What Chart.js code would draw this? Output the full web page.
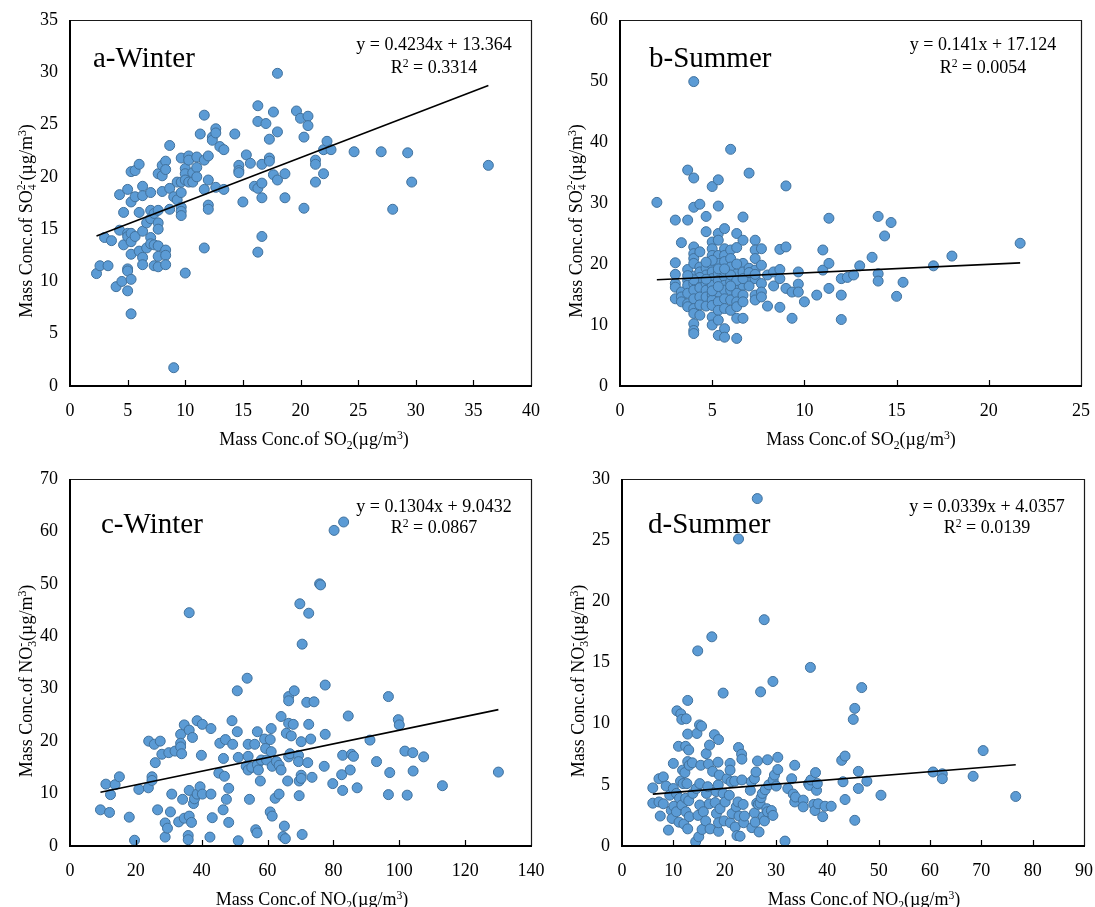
<!DOCTYPE html>
<html>
<head>
<meta charset="utf-8">
<script src="https://cdn.jsdelivr.net/npm/chart.js@4/dist/chart.umd.min.js"></script>
<style>
  html, body { margin:0; padding:0; background:#fff; }
  body { width:1095px; height:907px; position:relative; overflow:hidden; }
  .panel { position:absolute; }
  canvas { display:block; }
</style>
</head>
<body>
<div class="panel" style="left:0;top:0;"><canvas id="ca" width="550" height="450"></canvas></div>
<div class="panel" style="left:550px;top:0;"><canvas id="cb" width="545" height="450"></canvas></div>
<div class="panel" style="left:0;top:450px;"><canvas id="cc" width="550" height="457"></canvas></div>
<div class="panel" style="left:550px;top:450px;"><canvas id="cd" width="545" height="457"></canvas></div>
<script>
// ---------------- DATA ----------------
// a-Winter: SO2 (x) vs SO4 2- (y)
const soWinterX = [2.3,2.6,3.0,3.3,3.6,4.0,4.3,4.3,4.5,4.65,4.65,5.0,5.0,5.0,5.0,5.0,5.0,5.3,5.3,5.3,5.3,5.3,5.3,5.3,5.65,5.65,5.65,6.0,6.0,6.0,6.3,6.3,6.3,6.3,6.3,6.65,6.65,7.0,7.0,7.0,7.0,7.0,7.3,7.3,7.3,7.65,7.65,7.65,7.65,7.65,7.65,7.65,8.0,8.0,8.0,8.3,8.3,8.3,8.3,8.3,8.65,8.65,8.65,9.0,9.0,9.3,9.3,9.65,9.65,9.65,9.65,9.65,9.65,10.0,10.0,10.0,10.0,10.3,10.3,10.3,10.65,10.65,11.0,11.0,11.0,11.3,11.65,11.65,11.65,11.65,12.0,12.0,12.0,12.0,12.35,12.35,12.65,12.65,12.65,13.0,13.35,13.35,14.3,14.65,14.65,14.65,15.0,15.3,15.65,16.0,16.3,16.3,16.3,16.3,16.65,16.65,16.65,16.65,17.0,17.3,17.3,17.3,17.65,17.65,18.0,18.0,18.0,18.65,18.65,19.65,20.0,20.3,20.3,20.65,20.65,21.3,21.3,21.3,22.0,22.0,22.3,22.65,24.65,27.0,28.0,29.3,29.65,36.3];
const soWinterY = [10.75,11.5,14.2,11.5,13.9,9.5,18.3,14.9,10.0,16.6,13.5,18.8,14.6,14.3,11.2,11.0,9.1,20.5,17.6,14.6,13.8,12.6,10.2,6.9,20.6,18.1,14.3,21.2,16.6,12.9,19.1,18.2,14.8,12.3,11.6,15.6,13.2,18.5,16.8,16.0,14.2,13.6,16.5,13.5,11.5,20.3,16.8,15.6,15.0,13.4,12.4,11.4,21.1,20.1,18.6,21.5,20.7,13.0,12.5,11.6,23.0,18.9,16.9,18.1,1.75,19.5,17.8,21.8,19.5,18.5,17.1,16.7,16.3,20.8,20.3,19.7,10.8,22.0,21.6,19.5,20.4,19.5,21.9,20.9,20.0,24.1,25.9,21.6,18.8,13.2,22.0,19.7,17.3,16.9,23.8,23.5,24.6,24.2,19.0,22.9,22.6,18.8,24.1,21.1,20.6,20.4,17.6,22.1,21.3,19.1,26.8,25.3,18.9,12.8,21.2,19.4,18.0,14.3,25.1,23.6,21.8,21.5,26.2,20.2,29.9,24.3,19.7,20.3,18.0,26.3,25.6,23.8,17.0,25.8,24.9,21.6,21.2,19.5,22.6,20.3,23.4,22.6,22.4,22.4,16.9,22.3,19.5,21.1];

// b-Summer: SO2 (x) vs SO4 2- (y)
const soSummerX = [2.0,3.0,3.0,3.0,3.0,3.0,3.0,3.33,3.33,3.33,3.33,3.67,3.67,3.67,3.67,3.67,3.67,3.67,3.67,4.0,4.0,4.0,4.0,4.0,4.0,4.0,4.0,4.0,4.0,4.0,4.0,4.0,4.0,4.0,4.0,4.33,4.33,4.33,4.33,4.33,4.33,4.33,4.33,4.33,4.67,4.67,4.67,4.67,4.67,4.67,4.67,4.67,5.0,5.0,5.0,5.0,5.0,5.0,5.0,5.0,5.0,5.0,5.0,5.0,5.0,5.33,5.33,5.33,5.33,5.33,5.33,5.33,5.33,5.33,5.33,5.33,5.33,5.33,5.67,5.67,5.67,5.67,5.67,5.67,5.67,5.67,5.67,5.67,5.67,6.0,6.0,6.0,6.0,6.0,6.0,6.0,6.0,6.33,6.33,6.33,6.33,6.33,6.33,6.33,6.33,6.33,6.67,6.67,6.67,6.67,6.67,6.67,6.67,6.67,7.0,7.0,7.0,7.0,7.33,7.33,7.33,7.33,7.33,7.33,7.33,7.67,7.67,7.67,7.67,7.67,8.0,8.0,8.33,8.33,8.67,8.67,8.67,8.67,9.0,9.0,9.0,9.33,9.33,9.67,9.67,9.67,10.0,10.67,11.0,11.0,11.33,11.33,11.33,12.0,12.0,12.0,12.33,12.67,13.0,13.67,14.0,14.0,14.0,14.35,14.7,15.0,15.35,17.0,18.0,21.7,4.33,4.67,5.0,5.33,5.67,6.0,6.33,6.67,7.0,4.0,3.67,5.33,6.0,5.0,4.67,6.33,7.33,5.67];
const soSummerY = [30.1,27.2,20.2,18.3,16.8,16.2,14.3,23.5,15.4,14.6,13.8,35.4,27.2,19.1,17.3,16.5,15.2,13.5,13.0,49.9,34.1,29.3,22.8,21.7,20.9,20.1,18.0,16.8,15.7,14.3,12.7,11.9,10.2,9.1,8.6,29.8,22.0,19.5,18.7,17.1,16.1,14.6,13.3,11.6,27.8,25.3,19.3,18.2,16.8,15.7,14.6,13.1,32.7,23.6,22.5,21.4,19.8,18.7,17.6,16.5,14.9,14.1,13.2,11.3,10.0,33.8,29.5,25.0,23.9,21.4,20.1,18.4,17.3,15.4,13.8,12.4,10.8,8.3,25.8,22.5,21.4,20.4,17.9,16.5,15.7,14.3,12.7,9.4,8.0,38.8,22.3,20.9,19.5,17.1,15.7,14.1,12.4,25.0,22.7,18.4,16.8,15.2,13.8,13.0,11.1,7.8,27.7,23.9,20.1,18.7,16.5,14.9,13.8,11.1,34.9,19.3,17.9,16.4,23.9,22.3,20.9,19.0,17.6,14.9,14.1,22.5,19.8,16.8,15.4,14.6,18.2,13.1,18.7,16.4,22.4,19.1,17.6,12.9,32.8,22.8,16.0,15.4,11.1,18.7,16.7,15.4,13.8,14.9,22.3,19.0,27.5,20.1,16.0,17.6,14.9,10.9,17.8,18.2,19.7,21.1,27.8,18.4,17.2,24.6,26.8,14.7,17.0,19.7,21.3,23.4,17.8,17.5,15.6,16.3,18.8,18.2,17.3,17.6,18.6,17.4,18.1,19.2,16.4,20.6,20.3,20.0,18.3,19.2];

// c-Winter: NO2 (x) vs NO3 - (y)
const noWinterX = [9.25,10.9,12.0,12.3,13.7,15.0,18.0,19.6,20.9,23.8,23.9,24.9,24.9,25.6,25.9,26.6,27.4,27.9,28.9,28.9,29.6,30.0,30.5,30.9,31.9,33.0,33.6,33.6,33.6,33.9,34.2,34.7,34.7,35.9,35.9,36.2,36.2,36.2,36.2,36.9,37.2,37.5,37.8,38.6,38.6,39.5,39.9,40.2,40.2,42.5,42.8,42.8,43.2,45.2,45.5,46.5,46.6,46.9,47.2,47.5,48.2,48.2,49.2,49.4,50.8,50.8,51.1,51.1,53.5,53.8,54.1,54.1,54.1,54.5,55.2,56.1,56.4,56.8,56.9,56.9,57.2,57.8,58.1,59.1,59.4,59.7,60.8,60.8,61.1,61.1,61.4,61.4,62.3,62.7,63.5,63.5,64.1,64.1,64.7,65.1,65.4,65.7,66.1,66.4,66.4,66.4,66.4,66.8,67.2,67.8,68.1,69.4,69.4,69.6,69.6,69.8,70.2,70.2,70.2,70.5,70.5,71.9,72.2,72.5,72.5,73.1,73.5,74.1,75.8,76.1,77.2,77.5,77.5,79.8,80.2,82.5,82.8,82.8,83.1,84.5,85.1,85.5,86.1,87.2,91.1,93.1,96.7,96.7,97.1,99.7,100.0,101.7,102.4,104.1,104.2,107.4,113.1,130.1];
const noWinterY = [6.9,11.8,6.4,9.8,11.7,13.2,5.5,1.1,10.8,11.1,20.0,13.2,12.5,19.4,15.9,6.9,20.0,17.5,4.4,1.7,3.4,17.8,6.5,9.9,18.1,4.6,21.3,19.6,18.9,17.6,8.9,23.1,5.3,2.0,1.2,44.5,22.1,10.6,5.7,4.5,20.7,8.1,9.0,23.9,9.9,11.3,17.3,23.2,9.9,1.7,22.4,9.9,5.4,13.9,19.6,6.9,16.7,13.3,20.3,8.9,4.5,11.0,23.9,19.4,29.6,21.8,16.9,1.0,15.2,32.0,19.4,17.1,14.5,8.9,15.0,19.4,3.1,2.5,21.8,15.5,14.5,12.4,16.4,20.4,18.6,16.4,20.3,6.5,22.4,18.0,15.2,5.7,9.1,16.1,15.4,9.9,24.7,14.5,1.8,3.8,1.4,21.5,12.4,28.5,27.7,23.4,17.0,17.6,21.0,23.2,29.6,17.3,16.1,12.4,9.6,46.2,13.5,12.9,19.9,38.5,2.2,27.4,15.9,44.4,23.2,20.4,13.1,27.5,50.0,49.8,15.2,30.7,21.3,11.9,60.2,13.6,17.3,10.6,61.8,24.8,14.5,17.5,17.1,11.1,20.2,16.1,28.5,9.8,14.0,24.1,23.1,18.1,9.7,17.8,14.3,17.0,11.5,14.1];

// d-Summer: NO2 (x) vs NO3 - (y)
const noSummerX = [6.0,6.0,7.2,7.2,7.45,8.05,8.05,8.6,9.05,9.3,9.6,9.75,10.0,10.0,10.1,10.6,10.6,10.7,11.0,11.1,11.2,11.4,11.45,11.65,11.65,11.8,11.9,12.05,12.25,12.4,12.4,12.45,12.5,12.65,12.8,12.8,12.8,12.8,13.0,13.0,13.1,13.1,13.7,13.8,14.35,14.5,14.6,14.75,14.8,14.95,15.1,15.15,15.15,15.35,15.5,15.6,15.85,16.3,16.4,16.45,16.7,16.85,17.0,17.05,17.15,17.5,17.65,18.0,18.15,18.35,18.4,18.7,18.75,18.8,18.8,18.8,18.95,19.1,19.7,19.7,19.9,20.1,20.45,20.9,21.05,21.05,21.1,21.25,21.45,21.95,22.05,22.25,22.4,22.6,22.7,22.7,22.8,23.0,23.3,23.35,23.35,23.6,23.7,23.85,25.0,25.2,25.3,25.8,25.8,25.95,26.1,26.25,26.35,26.4,26.55,26.7,26.9,27.0,27.1,27.35,27.5,27.7,27.75,27.9,28.2,28.35,28.35,28.6,29.1,29.4,29.4,29.45,29.7,30.05,30.35,30.35,31.75,32.3,33.05,33.35,33.65,33.65,33.8,35.3,35.3,36.35,36.55,36.7,36.8,37.35,37.6,37.7,37.9,38.05,38.2,39.1,39.55,40.75,42.8,43.05,43.45,43.45,45.05,45.35,45.35,46.05,46.05,46.7,47.7,50.45,60.6,62.4,62.4,68.4,70.35,76.7];
const noSummerY = [4.75,3.5,5.5,3.6,2.45,5.65,3.45,4.9,1.3,4.15,2.9,2.25,6.75,4.7,3.25,2.8,4.3,11.05,8.15,1.95,3.9,5.3,10.8,10.35,3.35,6.2,5.1,1.8,6.0,8.15,3.9,2.8,10.4,5.1,11.9,9.15,6.9,1.4,3.7,7.85,6.6,2.4,6.8,4.3,0.35,4.7,9.2,15.95,2.5,0.75,9.9,5.1,3.35,6.6,9.8,1.35,2.8,2.05,7.55,4.3,4.85,6.7,3.45,8.25,1.4,17.1,6.1,9.1,3.55,4.45,2.65,6.85,5.0,8.7,1.2,1.9,5.8,3.05,12.5,4.3,2.05,3.6,5.5,4.15,6.75,6.2,1.9,5.25,2.65,5.3,1.55,3.2,0.85,3.6,25.1,8.05,2.45,0.8,7.5,5.4,7.1,3.4,1.9,2.45,4.55,5.25,1.5,5.5,2.7,1.95,6.05,3.5,28.4,6.95,3.4,1.15,3.5,12.6,3.95,4.3,2.4,18.5,2.05,4.6,3.05,7.05,2.8,5.0,2.9,2.5,13.45,5.4,5.8,4.9,7.25,6.25,0.4,4.7,5.5,4.25,6.6,3.6,4.0,3.75,3.2,5.1,4.95,14.6,5.4,3.4,2.9,6.0,4.55,5.1,3.45,2.4,3.25,3.25,7.0,5.25,7.35,3.8,10.35,11.25,2.1,6.1,4.7,12.95,5.3,4.15,6.05,5.9,5.5,5.7,7.8,4.05];

// linear fits (as printed on the chart)
const fitSlopes     = [0.4234, 0.141, 0.1304, 0.0339];
const fitIntercepts = [13.364, 17.124, 9.0432, 4.0357];
const eqLabels      = ['y = 0.4234x + 13.364', 'y = 0.141x + 17.124', 'y = 0.1304x + 9.0432', 'y = 0.0339x + 4.0357'];
const r2Values      = ['0.3314', '0.0054', '0.0867', '0.0139'];
const panelLabels   = ['a-Winter', 'b-Summer', 'c-Winter', 'd-Summer'];

// axes
const xMaxes = [40, 25, 140, 90];
const yMaxes = [35, 60, 70, 30];
const xSteps = [5, 5, 20, 10];
const ySteps = [5, 10, 10, 5];

// axis titles as rich-text segments
const xTitleSO2 = [{k:'n',t:'Mass Conc.of SO'},{k:'sub',t:'2'},{k:'n',t:'(\u00b5g/m'},{k:'sup',t:'3'},{k:'n',t:')'}];
const xTitleNO2 = [{k:'n',t:'Mass Conc.of NO'},{k:'sub',t:'2'},{k:'n',t:'(\u00b5g/m'},{k:'sup',t:'3'},{k:'n',t:')'}];
const yTitleSO4 = [{k:'n',t:'Mass Conc.of SO'},{k:'ss',b:'4',t:'2-'},{k:'n',t:'(\u00b5g/m'},{k:'sup',t:'3'},{k:'n',t:')'}];
const yTitleNO3 = [{k:'n',t:'Mass Conc.of NO'},{k:'ss',b:'3',t:'-'},{k:'n',t:'(\u00b5g/m'},{k:'sup',t:'3'},{k:'n',t:')'}];

// ---------------- DRAWING ----------------
const FONT = '"Liberation Serif", "Times New Roman", serif';

function segWidth(ctx, s, size) {
  if (s.k === 'n') { ctx.font = size + 'px ' + FONT; return ctx.measureText(s.t).width; }
  ctx.font = (size * 0.65) + 'px ' + FONT;
  if (s.k === 'ss') return Math.max(ctx.measureText(s.b).width, ctx.measureText(s.t).width);
  return ctx.measureText(s.t).width;
}
function drawRich(ctx, segs, size, cx, baseY) {
  let total = 0;
  segs.forEach(s => total += segWidth(ctx, s, size));
  let x = cx - total / 2;
  ctx.textAlign = 'left';
  ctx.textBaseline = 'alphabetic';
  segs.forEach(s => {
    const w = segWidth(ctx, s, size);
    if (s.k === 'n') {
      ctx.font = size + 'px ' + FONT; ctx.fillText(s.t, x, baseY);
    } else {
      ctx.font = (size * 0.65) + 'px ' + FONT;
      if (s.k === 'sub' || s.k === 'ss') ctx.fillText(s.k === 'ss' ? s.b : s.t, x, baseY + size * 0.22);
      if (s.k === 'sup') ctx.fillText(s.t, x, baseY - size * 0.36);
      if (s.k === 'ss') ctx.fillText(s.t, x, baseY - size * 0.38);
    }
    x += w;
  });
}

const decoPlugin = {
  id: 'deco',
  afterDatasetsDraw(chart, args, o) {
    const ctx = chart.ctx, ca = chart.chartArea, xs = chart.scales.x;
    ctx.save();
    // inner tick marks on x axis
    ctx.strokeStyle = '#000'; ctx.lineWidth = 1.2;
    xs.ticks.forEach((t, i) => {
      const px = Math.round(xs.getPixelForTick(i)) + 0.5;
      if (px <= ca.left + 2 || px >= ca.right - 2) return;
      ctx.beginPath(); ctx.moveTo(px, ca.bottom); ctx.lineTo(px, ca.bottom - 6); ctx.stroke();
    });
    // frame
    ctx.strokeStyle = '#1a1a1a'; ctx.lineWidth = 1.2;
    ctx.beginPath();
    ctx.moveTo(ca.left, ca.top + 0.5); ctx.lineTo(ca.right + 0.5, ca.top + 0.5); ctx.lineTo(ca.right + 0.5, ca.bottom);
    ctx.stroke();
    ctx.strokeStyle = '#000'; ctx.lineWidth = 2;
    ctx.beginPath();
    ctx.moveTo(ca.left, ca.top); ctx.lineTo(ca.left, ca.bottom); ctx.lineTo(ca.right + 1, ca.bottom);
    ctx.stroke();

    ctx.fillStyle = '#000';
    // panel label
    ctx.font = '29px ' + FONT; ctx.textAlign = 'left'; ctx.textBaseline = 'alphabetic';
    ctx.fillText(o.label, o.labelX, o.labelY);
    // equation + R2
    ctx.font = '18px ' + FONT; ctx.textAlign = 'center';
    ctx.fillText(o.eq, o.eqX, o.eqY);
    drawRich(ctx, [{k:'n',t:'R'},{k:'sup',t:'2'},{k:'n',t:' = ' + o.r2}], 18, o.eqX, o.r2Y);
    // axis titles
    drawRich(ctx, o.xTitle, 18, o.xTitleX, o.xTitleY);
    ctx.save();
    ctx.translate(o.yTitleX, o.yTitleY);
    ctx.rotate(-Math.PI / 2);
    drawRich(ctx, o.yTitle, 18, 0, 0);
    ctx.restore();
    ctx.restore();
  }
};

function makePanel(idx, canvasId, xs, ys, geo, text) {
  const pts = xs.map((x, i) => ({x: x, y: ys[i]}));
  const xmin = Math.min(...xs), xmax = Math.max(...xs);
  const fit = [xmin, xmax].map(x => ({x: x, y: fitSlopes[idx] * x + fitIntercepts[idx]}));
  const tickFont = {family: '"Liberation Serif", "Times New Roman", serif', size: 18};
  new Chart(document.getElementById(canvasId), {
    type: 'scatter',
    data: {
      datasets: [
        {type: 'line', data: fit, borderColor: '#000', borderWidth: 1.6, pointRadius: 0, fill: false, tension: 0},
        {data: pts, pointRadius: 5, pointHoverRadius: 5, backgroundColor: '#5B9BD5', borderColor: '#41719C', borderWidth: 1}
      ]
    },
    options: {
      responsive: false, animation: false, events: [],
      layout: {padding: {top: geo.top, right: geo.w - geo.right, left: 0, bottom: 0}},
      plugins: {
        legend: {display: false}, tooltip: {enabled: false},
        deco: Object.assign({label: panelLabels[idx], eq: eqLabels[idx], r2: r2Values[idx]}, text)
      },
      scales: {
        x: {
          type: 'linear', min: 0, max: xMaxes[idx],
          ticks: {stepSize: xSteps[idx], font: tickFont, color: '#000', padding: 14, maxRotation: 0, autoSkip: false},
          grid: {display: false, drawTicks: false}, border: {display: false},
          afterFit: s => { s.height = geo.h - geo.bottom; s.paddingLeft = 0; s.paddingRight = 0; }
        },
        y: {
          type: 'linear', min: 0, max: yMaxes[idx],
          ticks: {stepSize: ySteps[idx], font: tickFont, color: '#000', padding: 12, autoSkip: false},
          grid: {display: false, drawTicks: false}, border: {display: false},
          afterFit: s => { s.width = geo.left; s.paddingTop = 0; s.paddingBottom = 0; }
        }
      }
    },
    plugins: [decoPlugin]
  });
}

makePanel(0, 'ca', soWinterX, soWinterY,
  {w: 550, h: 450, left: 70, right: 531, top: 20, bottom: 386},
  {labelX: 93, labelY: 67, eqX: 434, eqY: 50, r2Y: 73, xTitle: xTitleSO2, xTitleX: 314, xTitleY: 445, yTitle: yTitleSO4, yTitleX: 32, yTitleY: 221});
makePanel(1, 'cb', soSummerX, soSummerY,
  {w: 545, h: 450, left: 70, right: 531, top: 20, bottom: 386},
  {labelX: 99, labelY: 67, eqX: 433, eqY: 50, r2Y: 73, xTitle: xTitleSO2, xTitleX: 311, xTitleY: 445, yTitle: yTitleSO4, yTitleX: 32, yTitleY: 221});
makePanel(2, 'cc', noWinterX, noWinterY,
  {w: 550, h: 457, left: 70, right: 531, top: 29, bottom: 396},
  {labelX: 101, labelY: 83, eqX: 434, eqY: 62, r2Y: 83, xTitle: xTitleNO2, xTitleX: 312, xTitleY: 455, yTitle: yTitleNO3, yTitleX: 32, yTitleY: 231});
makePanel(3, 'cd', noSummerX, noSummerY,
  {w: 545, h: 457, left: 72, right: 534, top: 29, bottom: 396},
  {labelX: 98, labelY: 83, eqX: 437, eqY: 62, r2Y: 83, xTitle: xTitleNO2, xTitleX: 314, xTitleY: 455, yTitle: yTitleNO3, yTitleX: 34, yTitleY: 231});
</script>
</body>
</html>
